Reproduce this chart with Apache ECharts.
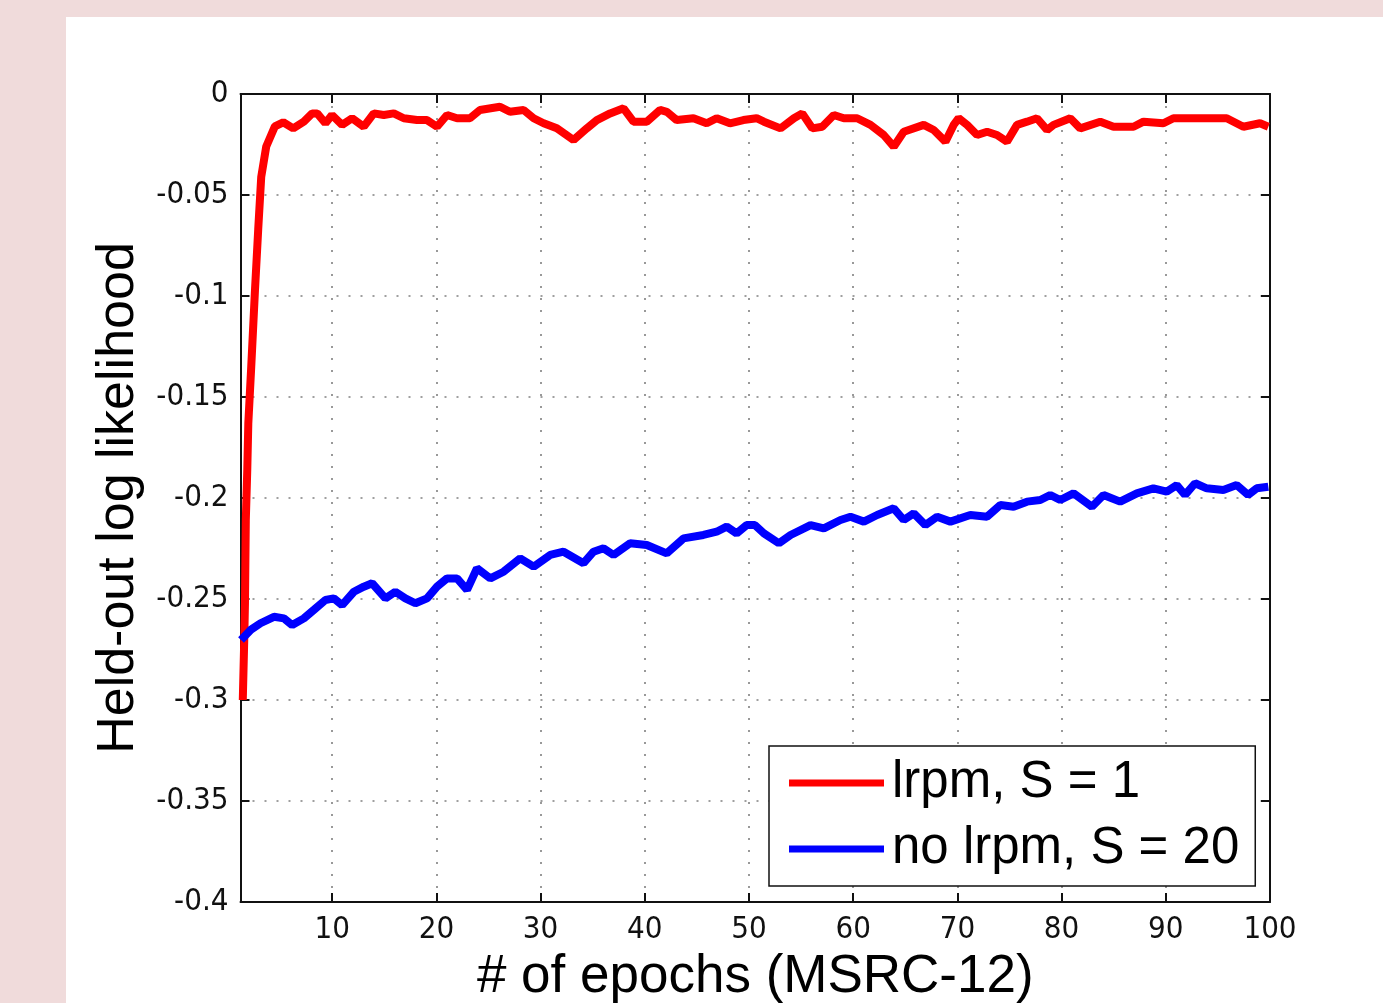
<!DOCTYPE html>
<html>
<head>
<meta charset="utf-8">
<script src="https://cdn.jsdelivr.net/npm/echarts@6/dist/echarts.min.js"></script>
<style>
  html, body { margin: 0; padding: 0; background: #f0dbdb; }
  #chart { width: 1383px; height: 1003px; }
</style>
</head>
<body>
<div id="chart"></div>
<script>
// epoch (x) and held-out log likelihood (y)
const redEpochs = [1.42, 1.56, 1.63, 1.71, 1.85, 1.95, 2.23, 2.59, 2.9, 3.19, 3.67, 4.5, 5.3, 6.26, 7.28, 8.08, 8.56, 9.35, 9.98, 10.95,
  11.91, 13.03, 13.99, 14.95, 15.91, 16.87, 18.14, 19.1, 20.06, 21.02, 21.98, 23.22, 24.18, 26.1, 27.06, 28.37, 29.33, 30.29, 31.56, 33.16,
  34.44, 35.4, 36.67, 37.96, 38.91, 40.19, 41.46, 42.11, 43.06, 44.67, 45.94, 46.9, 48.17, 49.46, 50.73, 51.43, 53.03, 54.31, 55.11, 56.07,
  57.03, 58.14, 59.1, 60.38, 61.66, 62.93, 63.89, 64.85, 66.77, 67.73, 68.85, 69.64, 70.12, 70.93, 71.89, 72.85, 73.8, 74.76, 75.72, 76.68,
  77.64, 78.6, 79.23, 80.83, 81.79, 83.71, 84.98, 86.9, 87.86, 89.77, 90.73, 95.85, 97.44, 99.04, 99.84];
const redLL = [-0.3, -0.27, -0.252, -0.211, -0.186, -0.163, -0.135, -0.097, -0.067, -0.041, -0.026, -0.016, -0.014, -0.017, -0.0137, -0.0096, -0.0096, -0.0145, -0.0104, -0.0153,
  -0.012, -0.0162, -0.0096, -0.0104, -0.0096, -0.012, -0.0129, -0.0129, -0.0162, -0.0104, -0.012, -0.012, -0.0079, -0.0063, -0.0088, -0.0079, -0.012, -0.0145, -0.017, -0.0228,
  -0.017, -0.0129, -0.0096, -0.0071, -0.0137, -0.0137, -0.0079, -0.0088, -0.0129, -0.012, -0.0145, -0.012, -0.0145, -0.0129, -0.012, -0.0137, -0.017, -0.012, -0.0096, -0.017,
  -0.0162, -0.0104, -0.012, -0.012, -0.0153, -0.0203, -0.0261, -0.0187, -0.0153, -0.0178, -0.0236, -0.0153, -0.012, -0.0153, -0.0203, -0.0187, -0.0203, -0.0236, -0.0153, -0.0137,
  -0.012, -0.0178, -0.0153, -0.012, -0.017, -0.0137, -0.0162, -0.0162, -0.0137, -0.0145, -0.012, -0.012, -0.0162, -0.0145, -0.0162];

const blueEpochs = [1.25, 2.17, 3.12, 4.41, 5.37, 6.16, 7.28, 8.24, 9.35, 10.16, 10.95, 12.08, 13.03, 13.83, 15.11, 16.06, 17.02, 17.98, 19.1, 20.06,
  21.02, 21.98, 22.94, 23.89, 25.17, 26.45, 28.04, 29.33, 30.92, 32.2, 34.12, 35.08, 36.04, 37.0, 38.59, 40.19, 42.11, 43.71, 45.62, 46.9,
  47.86, 48.81, 49.77, 50.57, 51.43, 52.87, 53.99, 55.91, 57.18, 58.78, 59.74, 61.02, 62.3, 63.89, 64.85, 65.81, 66.93, 68.05, 69.33, 71.24,
  72.84, 74.12, 75.39, 76.68, 77.95, 78.91, 79.87, 81.14, 82.91, 84.02, 85.62, 87.22, 88.81, 90.09, 91.05, 91.85, 92.81, 93.93, 95.52, 96.8,
  97.91, 98.72, 99.84];
const blueLL = [-0.2703, -0.2653, -0.262, -0.2588, -0.2596, -0.2629, -0.2596, -0.2554, -0.2505, -0.2497, -0.253, -0.2464, -0.2439, -0.2422, -0.2497, -0.2464, -0.2497, -0.2521, -0.2497, -0.2439,
  -0.2398, -0.2398, -0.2455, -0.2348, -0.2398, -0.2365, -0.2299, -0.234, -0.2282, -0.2266, -0.2323, -0.2266, -0.2249, -0.2282, -0.2224, -0.2233, -0.2274, -0.22, -0.2183, -0.2167,
  -0.2142, -0.2175, -0.2134, -0.2134, -0.2175, -0.2224, -0.2183, -0.2134, -0.215, -0.2109, -0.2093, -0.2117, -0.2084, -0.2051, -0.2109, -0.2076, -0.2134, -0.2093, -0.2117, -0.2084,
  -0.2093, -0.2035, -0.2043, -0.2018, -0.201, -0.1985, -0.201, -0.1977, -0.2043, -0.1985, -0.2018, -0.1977, -0.1952, -0.1968, -0.1936, -0.1985, -0.1927, -0.1952, -0.196, -0.1936,
  -0.1985, -0.1952, -0.1944];

const seriesNames = ['lrpm, S = 1', 'no lrpm, S = 20'];

const tickFont = '"Liberation Sans Narrow", "DejaVu Sans Condensed", Arial, sans-serif';
const textFont = '"Liberation Sans", Arial, sans-serif';

const chart = echarts.init(document.getElementById('chart'));

const dotted = { color: '#808080', width: 1.6, type: [2, 10] };
const boxLine = { color: '#111', width: 2 };

function sideAxis(position, extra) {
  return Object.assign({
    type: 'value',
    position,
    axisLine: { show: true, onZero: false, lineStyle: boxLine },
    axisTick: { show: true, inside: true, length: 9, lineStyle: boxLine },
    axisLabel: { show: false },
    splitLine: { show: false },
  }, extra);
}

const option = {
  backgroundColor: '#f0dbdb',
  animation: false,
  graphic: [{
    type: 'rect',
    left: 66, top: 17,
    shape: { width: 1383 - 66, height: 1003 - 17 },
    style: { fill: '#ffffff' },
    z: -10,
  }],
  grid: {
    left: 240.5, top: 94, right: 113, bottom: 101,
    containLabel: false,
    outerBoundsMode: 'none',
  },
  legend: {
    orient: 'vertical',
    left: 769, top: 746,
    data: seriesNames,
    icon: 'rect',
    itemWidth: 95,
    itemHeight: 7,
    itemGap: 10,
    padding: [9, 16, 9, 20],
    backgroundColor: '#fff',
    borderColor: '#111',
    borderWidth: 1.5,
    borderRadius: 0,
    textStyle: { fontFamily: textFont, fontSize: 51, color: '#000', lineHeight: 56, padding: [0, 0, 0, 3] },
  },
  xAxis: [
    {
      type: 'value',
      position: 'bottom',
      min: 1.2, max: 100,
      splitNumber: 10,
      axisLine: { show: true, onZero: false, lineStyle: boxLine },
      axisTick: { show: true, inside: true, length: 9, lineStyle: boxLine },
      axisLabel: { show: true, showMinLabel: false, margin: 12, fontFamily: tickFont, fontSize: 31, color: '#111' },
      splitLine: { show: true, lineStyle: dotted },
      name: '# of epochs (MSRC-12)',
      nameLocation: 'middle',
      nameGap: 49,
      nameTextStyle: { fontFamily: textFont, fontSize: 53, color: '#000' },
    },
    sideAxis('top', { min: 1.2, max: 100, splitNumber: 10 }),
  ],
  yAxis: [
    {
      type: 'value',
      position: 'left',
      min: -0.4, max: 0, interval: 0.05,
      axisLine: { show: true, onZero: false, lineStyle: boxLine },
      axisTick: { show: true, inside: true, length: 9, lineStyle: boxLine },
      axisLabel: { show: true, margin: 12, fontFamily: tickFont, fontSize: 31, color: '#111' },
      splitLine: { show: true, lineStyle: dotted },
      name: 'Held-out log likelihood',
      nameLocation: 'middle',
      nameGap: 96,
      nameTextStyle: { fontFamily: textFont, fontSize: 52, color: '#000' },
    },
    sideAxis('right', { min: -0.4, max: 0, interval: 0.05 }),
  ],
  series: [
    {
      name: seriesNames[0],
      type: 'line',
      showSymbol: false,
      symbol: 'none',
      color: '#ff0000',
      lineStyle: { color: '#ff0000', width: 8 },
      data: redEpochs.map((e, i) => [e, redLL[i]]),
      z: 3,
    },
    {
      name: seriesNames[1],
      type: 'line',
      showSymbol: false,
      symbol: 'none',
      color: '#0000ff',
      lineStyle: { color: '#0000ff', width: 8 },
      data: blueEpochs.map((e, i) => [e, blueLL[i]]),
      z: 4,
    },
  ],
};

chart.setOption(option);
</script>
</body>
</html>
